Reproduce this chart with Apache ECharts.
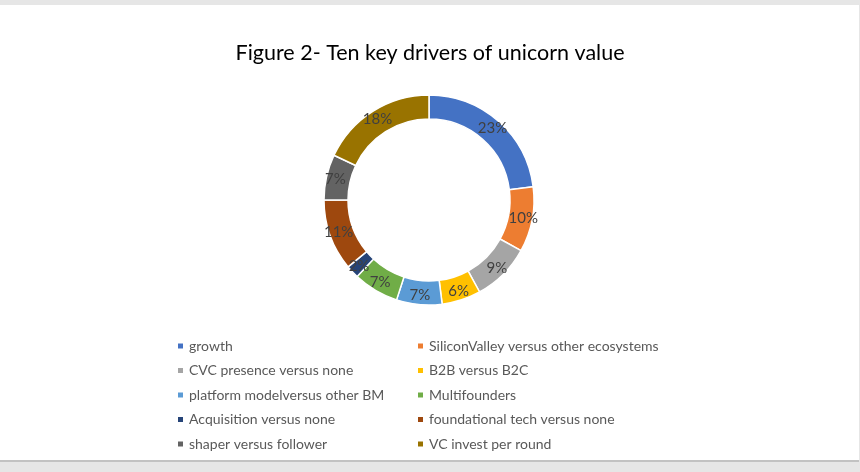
<!DOCTYPE html>
<html><head><meta charset="utf-8">
<script src="https://cdn.jsdelivr.net/npm/echarts@6/dist/echarts.min.js"></script>
<style>
html,body{margin:0;padding:0;background:#e6e6e6;width:860px;height:472px;overflow:hidden;}
#bg{position:absolute;left:0;top:5px;width:859px;height:455px;background:#fff;border-bottom:2px solid #c2c2c2;}
#chart{position:absolute;left:0;top:0;width:860px;height:472px;}
</style></head>
<body>
<div id="bg"></div>
<div id="chart"></div>
<script>
const categories = ["growth","SiliconValley versus other ecosystems","CVC presence versus none","B2B versus B2C","platform modelversus other BM","Multifounders","Acquisition versus none","foundational tech versus none","shaper versus follower","VC invest per round"];
const values = [23,10,9,6,7,7,2,11,7,18];
const colors = ["#4472C4","#ED7D31","#A5A5A5","#FFC000","#5B9BD5","#70AD47","#264478","#9E480E","#636363","#997300"];
const titleText = "Figure 2- Ten key drivers of unicorn value";

const chart = echarts.init(document.getElementById('chart'), null, {renderer:'canvas'});
const legendBase = {
  orient:'vertical', icon:'rect', itemWidth:7, itemHeight:7, itemGap:8.5,
  top:333, selectedMode:false,
  textStyle:{fontFamily:'Lato', fontSize:14, color:'#595959', lineHeight:16}
};
chart.setOption({
  backgroundColor:'transparent',
  animation:false,
  color: colors,
  title:{text:titleText, left:'center', top:37,
    textStyle:{fontFamily:'Lato', fontSize:21.5, fontWeight:'normal', color:'#000'}},
  legend:[
    Object.assign({}, legendBase, {left:171, data: categories.filter((c,i)=>i%2===0)}),
    Object.assign({}, legendBase, {left:411, data: categories.filter((c,i)=>i%2===1)})
  ],
  series:[{
    type:'pie', center:[429,200], radius:[81,105], startAngle:90, clockwise:true,
    avoidLabelOverlap:false,
    itemStyle:{borderColor:'#fff', borderWidth:1.5},
    label:{show:true, position:'inside', formatter:'{c}%', fontFamily:'Lato', fontSize:15, color:'#404040'},
    labelLine:{show:false},
    emphasis:{disabled:true},
    data: categories.map((c,i)=>({name:c, value:values[i]}))
  }]
});
</script>
</body></html>
